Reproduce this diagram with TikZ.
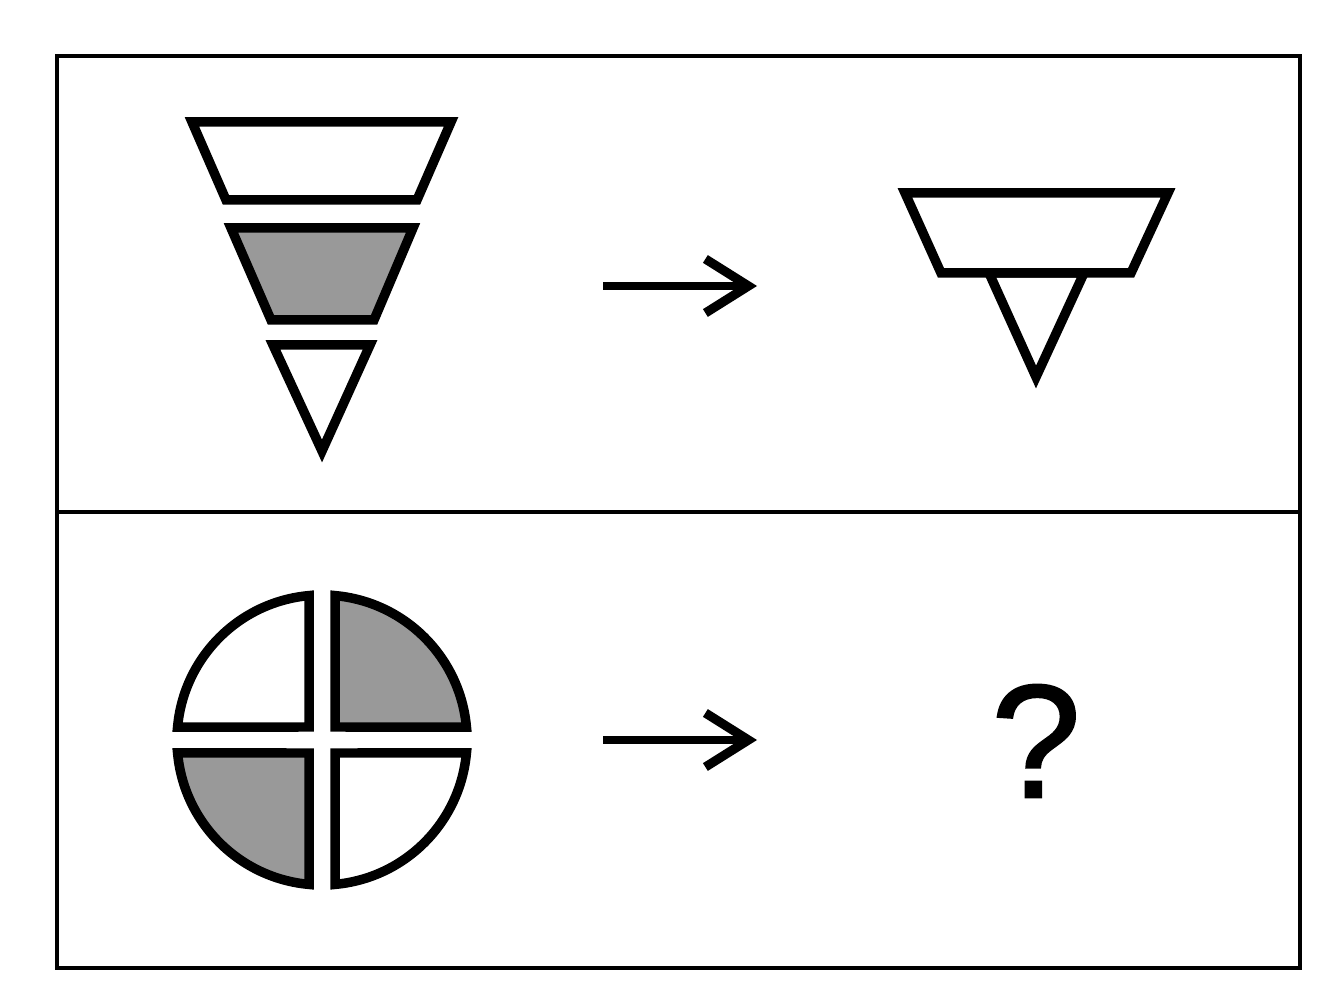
\documentclass[tikz,border=0pt]{standalone}
\usepackage{fontspec}
\setmainfont{Liberation Sans}
\newfontfamily\qfont{Liberation Sans}[FakeBold=1.2]
\usetikzlibrary{arrows.meta}
\definecolor{shade}{RGB}{153,153,153}

\begin{document}
\begin{tikzpicture}[x=0.01cm, y=0.01cm, line join=miter,
  frame/.style={draw=black, line width=1.4pt},
  piece/.style={draw=black, line width=2.7pt, fill=white},
  shaded/.style={piece, fill=shade},
  arr/.style={-{Straight Barb[length=4.3mm, width=5.4mm, line width=2.6pt]}, line width=2pt}]
\useasboundingbox (0,0) rectangle (1328,1000);
% ---- frame and divider
\draw[frame] (57,944) rectangle (1300,32);
\draw[frame] (57,488) -- (1300,488);
% ---- top row: three stacked pieces
\draw[piece] (192,878) -- (451,878) -- (417,800) -- (226,800) -- cycle;
\draw[shaded] (231,772) -- (413,772) -- (374,680) -- (271,680) -- cycle;
\draw[piece] (273,655) -- (370,655) -- (322,549) -- cycle;
\coordinate (a1s) at (603,714);
\coordinate (a1e) at (757,714);
\draw[arr] (a1s) -- (a1e);
% ---- top row: result
\draw[piece] (989,727) -- (1084,727) -- (1036,623) -- cycle;
\draw[piece] (905,807) -- (1168,807) -- (1131,727) -- (941,727) -- cycle;
% ---- bottom row: split circle, centre (322,260), r=145
\draw[piece] (309,404.4) arc[start angle=95.14, end angle=174.86, radius=145] -- (309,273) -- cycle;
\draw[shaded] (335,404.4) arc[start angle=84.86, end angle=5.14, radius=145] -- (335,273) -- cycle;
\draw[shaded] (309,115.6) arc[start angle=264.86, end angle=185.14, radius=145] -- (309,247) -- cycle;
\draw[piece] (335,115.6) arc[start angle=275.14, end angle=354.86, radius=145] -- (335,247) -- cycle;
\coordinate (a2s) at (603,260);
\coordinate (a2e) at (757,260);
\draw[arr] (a2s) -- (a2e);
\node[font=\qfont\fontsize{46}{50}\selectfont, inner sep=0pt] (q) at (1036,259) {?};
\end{tikzpicture}
\end{document}
